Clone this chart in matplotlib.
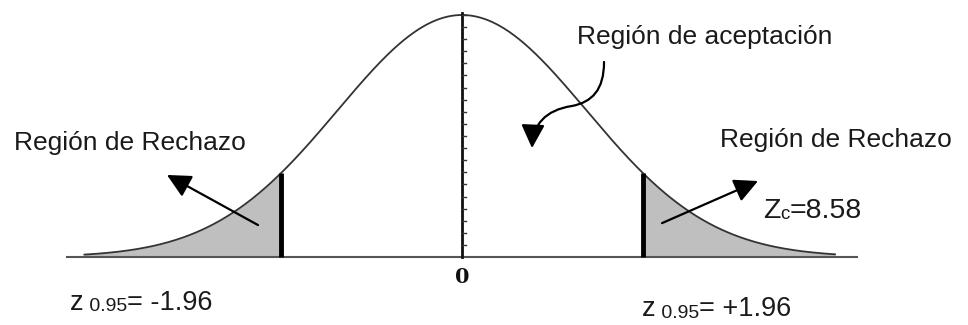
import numpy as np
import matplotlib
matplotlib.use("Agg")
import matplotlib.pyplot as plt
from matplotlib.path import Path
from matplotlib.patches import FancyArrowPatch
from matplotlib.transforms import offset_copy

plt.rcParams['font.family'] = ['Liberation Sans', 'DejaVu Sans']

# --- data ---
z_critical = 1.96          # critical value (two-tailed, alpha = 0.05)
curve_sd = 1.35            # spread of the drawn bell curve (z units)
curve_range = (-4.1, 4.05) # drawn extent of the curve
accept_label = "Región de aceptación"
reject_label = "Región de Rechazo"
zc_parts = ["Z", "c", "=8.58"]
zl_parts = ["z", " 0.95", "= -1.96"]
zr_parts = ["z", " 0.95", "= +1.96"]
zero_label = "0"
tick_values = np.arange(0.05, 1.0001, 0.05)

# --- figure / layout (pixel mapping) ---
W, H, DPI = 968, 325, 100
px_per_z = 92.1
px_per_y = 242.0
x0_px, base_px = 462.0, 257.0

fig = plt.figure(figsize=(W / DPI, H / DPI), dpi=DPI)
ax = fig.add_axes([0, 0, 1, 1])
ax.set_xlim(-x0_px / px_per_z, (W - x0_px) / px_per_z)
ax.set_ylim((base_px - H) / px_per_y, base_px / px_per_y)
ax.axis('off')

def bell(z):
    return np.exp(-z ** 2 / (2 * curve_sd ** 2))

z = np.linspace(curve_range[0], curve_range[1], 600)
y = bell(z)

# shaded rejection regions
left = z <= -z_critical
right = z >= z_critical
ax.fill_between(z[left], 0, y[left], color='#bfbfbf', lw=0, zorder=1)
ax.fill_between(z[right], 0, y[right], color='#bfbfbf', lw=0, zorder=1)

# curve
ax.plot(z, y, color='#333333', lw=1.3, zorder=3)

# horizontal axis
ax.plot([-4.29, 4.29], [0, 0], color='#555555', lw=1.5, zorder=2)
# vertical axis with small ticks on the right
ax.plot([0, 0], [0, 1.008], color='#111111', lw=2.0, zorder=4)
for t in tick_values:
    ax.plot([0, 0.045], [t, t], color='#333333', lw=1.0, zorder=4)

# critical lines
for zc in (-z_critical, z_critical):
    ax.plot([zc, zc], [0, bell(zc)], color='black', lw=3.5, zorder=4,
            solid_capstyle='butt')

# zero label
ax.text(0, -0.083, zero_label, ha='center', va='center', fontsize=15,
        fontweight='bold', family='DejaVu Serif', color='#111111')

fs = 19
tc = '#1a1a1a'
ax.text(1.25, 0.909, accept_label, ha='left', va='center', fontsize=fs, color=tc)
ax.text(-4.864, 0.471, reject_label, ha='left', va='center', fontsize=fs, color=tc)
ax.text(2.80, 0.483, reject_label, ha='left', va='center', fontsize=fs, color=tc)

renderer = fig.canvas.get_renderer()

def piecewise(x, y, parts, sizes, sub_drop=1.0):
    """Place text pieces left to right on a common baseline (points offsets)."""
    trans = ax.transData
    dx = 0.0
    for i, (txt, size) in enumerate(zip(parts, sizes)):
        dy = -sub_drop if i == 1 else 0.0
        tr = offset_copy(trans, fig=fig, x=dx, y=dy, units='points')
        t = ax.text(x, y, txt, ha='left', va='baseline', fontsize=size,
                    color=tc, transform=tr)
        bb = t.get_window_extent(renderer)
        dx += bb.width * 72.0 / DPI

piecewise(3.27, (base_px - 218) / px_per_y, zc_parts, [20.5, 13.5, 20.5])
piecewise(-4.256, (base_px - 310) / px_per_y, zl_parts, [19.5, 14, 19.5])
piecewise(1.954, (base_px - 316.5) / px_per_y, zr_parts, [19.5, 14, 19.5])

# straight arrows
arrow_kw = dict(arrowstyle='-|>,head_length=0.9,head_width=0.45', color='black',
                lw=1.6, shrinkA=0, shrinkB=0, mutation_scale=16)
ax.annotate('', xy=(-3.203, 0.339), xytext=(-2.215, 0.132), arrowprops=arrow_kw, zorder=5)
ax.annotate('', xy=(3.214, 0.314), xytext=(2.172, 0.140), arrowprops=arrow_kw, zorder=5)

# curved arrow
verts = [(1.542, 0.806), (1.542, 0.690), (1.411, 0.640), (1.194, 0.624),
         (0.901, 0.607), (0.771, 0.545), (0.760, 0.450)]
codes = [Path.MOVETO, Path.CURVE4, Path.CURVE4, Path.CURVE4,
         Path.CURVE4, Path.CURVE4, Path.CURVE4]
ca = FancyArrowPatch(path=Path(verts, codes),
                     arrowstyle='-|>,head_length=0.9,head_width=0.45',
                     mutation_scale=16, color='black', lw=1.6, zorder=5)
ax.add_patch(ca)

fig.savefig('out.png', dpi=DPI, facecolor='white')
